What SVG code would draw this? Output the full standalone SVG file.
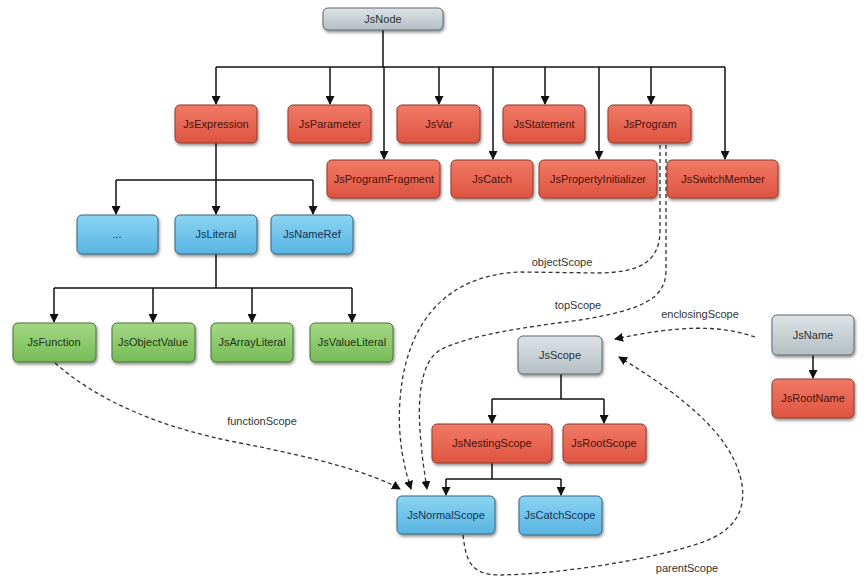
<svg xmlns="http://www.w3.org/2000/svg" width="867" height="582" viewBox="0 0 867 582">
<defs>
<linearGradient id="gRed" x1="0" y1="0" x2="0" y2="1"><stop offset="0" stop-color="#f07a66"/><stop offset="1" stop-color="#de5440"/></linearGradient>
<linearGradient id="gGray" x1="0" y1="0" x2="0" y2="1"><stop offset="0" stop-color="#dde3e6"/><stop offset="1" stop-color="#b4bec3"/></linearGradient>
<linearGradient id="gBlue" x1="0" y1="0" x2="0" y2="1"><stop offset="0" stop-color="#8ad4f2"/><stop offset="1" stop-color="#58b4e2"/></linearGradient>
<linearGradient id="gGreen" x1="0" y1="0" x2="0" y2="1"><stop offset="0" stop-color="#a3d884"/><stop offset="1" stop-color="#76bb58"/></linearGradient>
<filter id="sh" x="-10%" y="-20%" width="125%" height="150%"><feDropShadow dx="1" dy="2" stdDeviation="1.5" flood-color="#000" flood-opacity="0.45"/></filter>
<marker id="ar" markerWidth="9" markerHeight="9" refX="8" refY="4.5" orient="auto" markerUnits="userSpaceOnUse"><path d="M0,0 L9,4.5 L0,9 Z" fill="#111"/></marker>
</defs>
<style>
rect{filter:url(#sh);}
.red rect{fill:url(#gRed);stroke:#8c3b2e;stroke-width:1;}
.gray rect{fill:url(#gGray);stroke:#5f686c;stroke-width:1;}
.blue rect{fill:url(#gBlue);stroke:#3a6580;stroke-width:1;}
.green rect{fill:url(#gGreen);stroke:#4a7238;stroke-width:1;}
text{font-family:"Liberation Sans",Arial,sans-serif;font-size:11px;text-anchor:middle;}
.red text{fill:#4a120a;}
.gray text{fill:#2a3236;}
.blue text{fill:#123454;}
.green text{fill:#1c3410;}
.lbl{fill:#333;}
.solid{fill:none;stroke:#111;stroke-width:1.5;}
.dash{fill:none;stroke:#333;stroke-width:1.3;stroke-dasharray:4,3;}
</style>
<g id="connectors">
<path class="solid" d="M383,30 V67 M216,67 H725"/>
<path class="solid" marker-end="url(#ar)" d="M216,67 V104"/>
<path class="solid" marker-end="url(#ar)" d="M330,67 V104"/>
<path class="solid" marker-end="url(#ar)" d="M439,67 V104"/>
<path class="solid" marker-end="url(#ar)" d="M545,67 V104"/>
<path class="solid" marker-end="url(#ar)" d="M651,67 V104"/>
<path class="solid" marker-end="url(#ar)" d="M384,67 V159"/>
<path class="solid" marker-end="url(#ar)" d="M493,67 V159"/>
<path class="solid" marker-end="url(#ar)" d="M599,67 V159"/>
<path class="solid" marker-end="url(#ar)" d="M725,67 V159"/>
<path class="solid" d="M116,180 H313"/>
<path class="solid" marker-end="url(#ar)" d="M216,143 V214"/>
<path class="solid" marker-end="url(#ar)" d="M116,180 V214"/>
<path class="solid" marker-end="url(#ar)" d="M313,180 V214"/>
<path class="solid" d="M216,254 V288 M54,288 H352"/>
<path class="solid" marker-end="url(#ar)" d="M54,288 V322"/>
<path class="solid" marker-end="url(#ar)" d="M153,288 V322"/>
<path class="solid" marker-end="url(#ar)" d="M252,288 V322"/>
<path class="solid" marker-end="url(#ar)" d="M352,288 V322"/>
<path class="solid" d="M561,374 V399 M492,399 H604"/>
<path class="solid" marker-end="url(#ar)" d="M492,399 V423"/>
<path class="solid" marker-end="url(#ar)" d="M604,399 V423"/>
<path class="solid" d="M492,463 V479 M446,479 H561"/>
<path class="solid" marker-end="url(#ar)" d="M446,479 V495"/>
<path class="solid" marker-end="url(#ar)" d="M561,479 V495"/>
<path class="solid" marker-end="url(#ar)" d="M813,355 V378"/>
<path class="dash" marker-end="url(#ar)" d="M55,363 Q120,420 240,443 T400,489"/>
<path class="dash" marker-end="url(#ar)" d="M660,145 L660,230 C660,262 640,272 600,273 L520,272 C440,275 405,330 400,400 C397,440 405,470 411,489"/>
<path class="dash" marker-end="url(#ar)" d="M666,145 L666,270 C666,300 640,310 580,320 C520,328 470,335 440,350 C420,362 418,400 420,430 C422,460 425,475 427,489"/>
<path class="dash" marker-end="url(#ar)" d="M755,337 C720,325 680,325 615,339"/>
<path class="dash" marker-end="url(#ar)" d="M463,535 C466,560 470,575 500,575 C560,574 650,560 700,543 C740,530 745,505 742,485 C735,440 690,400 619,357"/>
<text class="lbl" x="562" y="266">objectScope</text>
<text class="lbl" x="578" y="309">topScope</text>
<text class="lbl" x="700" y="318">enclosingScope</text>
<text class="lbl" x="262" y="425">functionScope</text>
<text class="lbl" x="687" y="572">parentScope</text>
</g>
<g id="JsNode" class="gray"><rect x="323" y="8" width="120" height="22" rx="5"/><text x="383" y="23">JsNode</text></g>
<g id="JsExpression" class="red"><rect x="175" y="105" width="82" height="38" rx="5"/><text x="216" y="128">JsExpression</text></g>
<g id="JsParameter" class="red"><rect x="288" y="105" width="83" height="38" rx="5"/><text x="330" y="128">JsParameter</text></g>
<g id="JsVar" class="red"><rect x="397" y="105" width="83" height="38" rx="5"/><text x="439" y="128">JsVar</text></g>
<g id="JsStatement" class="red"><rect x="503" y="105" width="82" height="38" rx="5"/><text x="544" y="128">JsStatement</text></g>
<g id="JsProgram" class="red"><rect x="608" y="105" width="83" height="38" rx="5"/><text x="650" y="128">JsProgram</text></g>
<g id="JsProgramFragment" class="red"><rect x="327" y="160" width="113" height="38" rx="5"/><text x="384" y="183">JsProgramFragment</text></g>
<g id="JsCatch" class="red"><rect x="451" y="160" width="82" height="38" rx="5"/><text x="492" y="183">JsCatch</text></g>
<g id="JsPropertyInitializer" class="red"><rect x="539" y="160" width="118" height="38" rx="5"/><text x="598" y="183">JsPropertyInitializer</text></g>
<g id="JsSwitchMember" class="red"><rect x="667" y="160" width="111" height="38" rx="5"/><text x="723" y="183">JsSwitchMember</text></g>
<g id="Ellipsis" class="blue"><rect x="77" y="215" width="81" height="39" rx="5"/><text x="117" y="238">...</text></g>
<g id="JsLiteral" class="blue"><rect x="175" y="215" width="82" height="39" rx="5"/><text x="216" y="238">JsLiteral</text></g>
<g id="JsNameRef" class="blue"><rect x="271" y="215" width="82" height="39" rx="5"/><text x="312" y="238">JsNameRef</text></g>
<g id="JsFunction" class="green"><rect x="13" y="323" width="83" height="39" rx="5"/><text x="54" y="346">JsFunction</text></g>
<g id="JsObjectValue" class="green"><rect x="112" y="323" width="83" height="39" rx="5"/><text x="153" y="346">JsObjectValue</text></g>
<g id="JsArrayLiteral" class="green"><rect x="211" y="323" width="82" height="39" rx="5"/><text x="252" y="346">JsArrayLiteral</text></g>
<g id="JsValueLiteral" class="green"><rect x="310" y="323" width="83" height="39" rx="5"/><text x="352" y="346">JsValueLiteral</text></g>
<g id="JsScope" class="gray"><rect x="518" y="336" width="84" height="38" rx="5"/><text x="560" y="359">JsScope</text></g>
<g id="JsName" class="gray"><rect x="772" y="315" width="82" height="40" rx="5"/><text x="813" y="339">JsName</text></g>
<g id="JsRootName" class="red"><rect x="772" y="379" width="82" height="39" rx="5"/><text x="813" y="402">JsRootName</text></g>
<g id="JsNestingScope" class="red"><rect x="432" y="424" width="120" height="39" rx="5"/><text x="492" y="447">JsNestingScope</text></g>
<g id="JsRootScope" class="red"><rect x="563" y="424" width="83" height="39" rx="5"/><text x="604" y="447">JsRootScope</text></g>
<g id="JsNormalScope" class="blue"><rect x="397" y="496" width="98" height="38" rx="5"/><text x="446" y="519">JsNormalScope</text></g>
<g id="JsCatchScope" class="blue"><rect x="519" y="496" width="83" height="39" rx="5"/><text x="560" y="519">JsCatchScope</text></g>
</svg>
